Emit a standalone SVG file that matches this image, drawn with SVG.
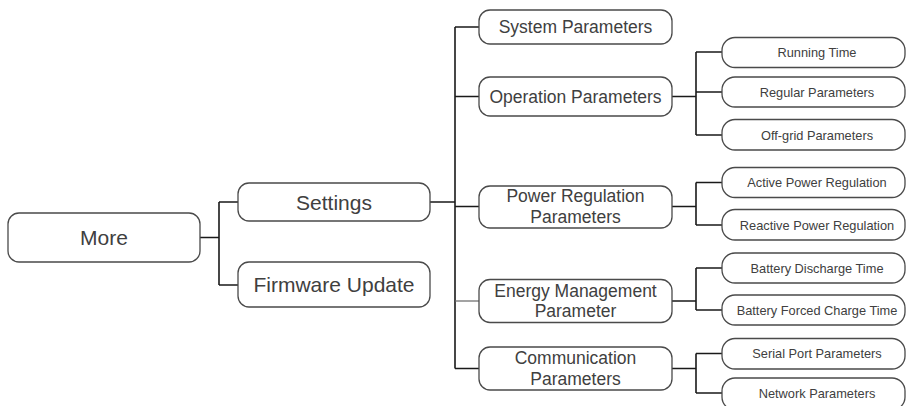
<svg xmlns="http://www.w3.org/2000/svg" width="906" height="406" viewBox="0 0 906 406">
<style>
  .box { fill: #ffffff; stroke: #4a4a4a; stroke-width: 1.3; }
  .t { font-family: "Liberation Sans", Arial, sans-serif; fill: #404040; text-anchor: middle; dominant-baseline: central; }
  .l { font-size: 21px; }
  .m { font-size: 17.5px; }
  .s { font-size: 12.8px; }
  .c { fill: none; stroke: #1a1a1a; stroke-width: 1.6; }
</style>
<rect width="906" height="406" fill="#ffffff"/>
<g id="connectors">
  <path class="c" d="M200,237.5 H219 M219,202 V285 M219,202 H238 M219,285 H238"/>
  <path class="c" d="M430,202 H455 M455,27 V368.5 M455,27 H479 M455,96.5 H479 M455,206.5 H479 M455,368.5 H479"/>
  <path class="c" d="M455,301 H479" style="stroke:#666;stroke-width:1.2"/>
  <path class="c" d="M672,96.5 H696 M696,52 V135 M696,52 H722 M696,92 H722 M696,135 H722"/>
  <path class="c" d="M672,206.5 H696 M696,182.5 V225 M696,182.5 H722 M696,225 H722"/>
  <path class="c" d="M672,301 H696 M696,268 V310 M696,268 H722 M696,310 H722"/>
  <path class="c" d="M672,368.5 H696 M696,353.5 V393 M696,353.5 H722 M696,393 H722"/>
</g>
<g id="more"><rect class="box" x="8" y="213" width="192" height="49" rx="11"/><text class="t l" x="104" y="237.5">More</text></g>
<g id="settings"><rect class="box" x="238" y="183" width="192" height="38" rx="11"/><text class="t l" x="334" y="202">Settings</text></g>
<g id="firmware"><rect class="box" x="238" y="262" width="192" height="45" rx="11"/><text class="t l" x="334" y="284.5">Firmware Update</text></g>

<g id="system"><rect class="box" x="479" y="10" width="193" height="34" rx="11"/><text class="t m" x="575.5" y="27">System Parameters</text></g>
<g id="operation"><rect class="box" x="479" y="77" width="193" height="39" rx="11"/><text class="t m" x="575.5" y="96.5">Operation Parameters</text></g>
<g id="power"><rect class="box" x="479" y="186" width="193" height="42" rx="11"/><text class="t m" x="575.5" y="196">Power Regulation</text><text class="t m" x="575.5" y="216.5">Parameters</text></g>
<g id="energy"><rect class="box" x="479" y="279.5" width="193" height="43" rx="11"/><text class="t m" x="575.5" y="290.5">Energy Management</text><text class="t m" x="575.5" y="311">Parameter</text></g>
<g id="communication"><rect class="box" x="479" y="347" width="193" height="43" rx="11"/><text class="t m" x="575.5" y="358">Communication</text><text class="t m" x="575.5" y="378.5">Parameters</text></g>

<g id="running"><rect class="box" x="722" y="37.5" width="183" height="30" rx="13"/><text class="t s" x="817" y="52.5">Running Time</text></g>
<g id="regular"><rect class="box" x="722" y="77" width="183" height="30" rx="13"/><text class="t s" x="817" y="92">Regular Parameters</text></g>
<g id="offgrid"><rect class="box" x="722" y="119.5" width="183" height="30.5" rx="13"/><text class="t s" x="817" y="135">Off-grid Parameters</text></g>
<g id="active"><rect class="box" x="722" y="167.5" width="183" height="30" rx="13"/><text class="t s" x="817" y="182.5">Active Power Regulation</text></g>
<g id="reactive"><rect class="box" x="722" y="209.5" width="183" height="30.5" rx="13"/><text class="t s" x="817" y="225">Reactive Power Regulation</text></g>
<g id="discharge"><rect class="box" x="722" y="253" width="183" height="30" rx="13"/><text class="t s" x="817" y="268">Battery Discharge Time</text></g>
<g id="forced"><rect class="box" x="722" y="295" width="183" height="30" rx="13"/><text class="t s" x="817" y="310">Battery Forced Charge Time</text></g>
<g id="serial"><rect class="box" x="722" y="338.5" width="183" height="30.5" rx="13"/><text class="t s" x="817" y="353.5">Serial Port Parameters</text></g>
<g id="network"><rect class="box" x="722" y="378" width="183" height="32" rx="13"/><text class="t s" x="817" y="393">Network Parameters</text></g>
</svg>
